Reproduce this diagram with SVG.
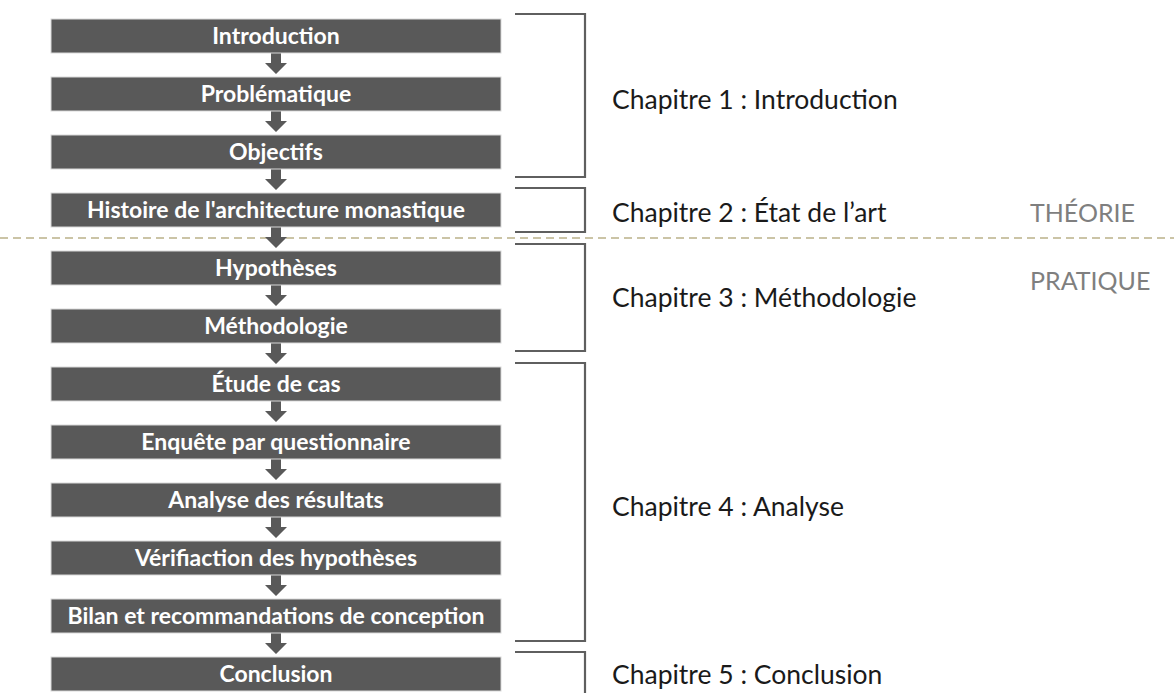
<svg xmlns="http://www.w3.org/2000/svg" width="1174" height="693" viewBox="0 0 1174 693">
<style>
.box{fill:#595959;stroke:#d9d9d9;stroke-width:1}
.lbl{font-family:Lato,"Liberation Sans",sans-serif;font-weight:bold;font-size:23px;fill:#ffffff;text-anchor:middle}
.arr{fill:#595959}
.brk{fill:none;stroke:#5f5f5f;stroke-width:2.2}
.ch{font-family:Lato,"Liberation Sans",sans-serif;font-size:26.5px;fill:#1a1a1a}
.sec{font-family:Lato,"Liberation Sans",sans-serif;font-size:25px;fill:#7f7f7f}
.dash{stroke:#cbc4a6;stroke-width:2;stroke-dasharray:8 5;fill:none}
</style>
<rect width="1174" height="693" fill="#ffffff"/>
<line class="dash" x1="0" y1="238" x2="1174" y2="238"/>
<g id="connectors">
<polygon class="arr" points="271,52 281,52 281,63 287,63 276,74 265,63 271,63"/>
<polygon class="arr" points="271,110 281,110 281,121 287,121 276,132 265,121 271,121"/>
<polygon class="arr" points="271,168 281,168 281,179 287,179 276,190 265,179 271,179"/>
<polygon class="arr" points="271,226 281,226 281,237 287,237 276,248 265,237 271,237"/>
<polygon class="arr" points="271,284 281,284 281,295 287,295 276,306 265,295 271,295"/>
<polygon class="arr" points="271,342 281,342 281,353 287,353 276,364 265,353 271,353"/>
<polygon class="arr" points="271,400 281,400 281,411 287,411 276,422 265,411 271,411"/>
<polygon class="arr" points="271,458 281,458 281,469 287,469 276,480 265,469 271,469"/>
<polygon class="arr" points="271,516 281,516 281,527 287,527 276,538 265,527 271,527"/>
<polygon class="arr" points="271,574 281,574 281,585 287,585 276,596 265,585 271,585"/>
<polygon class="arr" points="271,632 281,632 281,643 287,643 276,654 265,643 271,643"/>
</g>
<g id="n1"><rect class="box" x="51" y="19" width="450" height="34"/><text class="lbl" x="276" y="44">Introduction</text></g>
<g id="n2"><rect class="box" x="51" y="77" width="450" height="34"/><text class="lbl" x="276" y="102">Problématique</text></g>
<g id="n3"><rect class="box" x="51" y="135" width="450" height="34"/><text class="lbl" x="276" y="160">Objectifs</text></g>
<g id="n4"><rect class="box" x="51" y="193" width="450" height="34"/><text class="lbl" x="276" y="218">Histoire de l'architecture monastique</text></g>
<g id="n5"><rect class="box" x="51" y="251" width="450" height="34"/><text class="lbl" x="276" y="276">Hypothèses</text></g>
<g id="n6"><rect class="box" x="51" y="309" width="450" height="34"/><text class="lbl" x="276" y="334">Méthodologie</text></g>
<g id="n7"><rect class="box" x="51" y="367" width="450" height="34"/><text class="lbl" x="276" y="392">Étude de cas</text></g>
<g id="n8"><rect class="box" x="51" y="425" width="450" height="34"/><text class="lbl" x="276" y="450">Enquête par questionnaire</text></g>
<g id="n9"><rect class="box" x="51" y="483" width="450" height="34"/><text class="lbl" x="276" y="508">Analyse des résultats</text></g>
<g id="n10"><rect class="box" x="51" y="541" width="450" height="34"/><text class="lbl" x="276" y="566">Vérifiaction des hypothèses</text></g>
<g id="n11"><rect class="box" x="51" y="599" width="450" height="34"/><text class="lbl" x="276" y="624">Bilan et recommandations de conception</text></g>
<g id="n12"><rect class="box" x="51" y="657" width="450" height="34"/><text class="lbl" x="276" y="682">Conclusion</text></g>
<g id="brackets">
<path class="brk" d="M515,14 H585 V177 H515"/>
<path class="brk" d="M515,188 H585 V232 H515"/>
<path class="brk" d="M515,244 H585 V351 H515"/>
<path class="brk" d="M515,363 H585 V641 H515"/>
<path class="brk" d="M515,652 H585 V694"/>
</g>
<g id="chapters">
<text class="ch" x="612" y="109">Chapitre 1 : Introduction</text>
<text class="ch" x="612" y="222">Chapitre 2 : État de l’art</text>
<text class="ch" x="612" y="307">Chapitre 3 : Méthodologie</text>
<text class="ch" x="612" y="516">Chapitre 4 : Analyse</text>
<text class="ch" x="612" y="684">Chapitre 5 : Conclusion</text>
</g>
<g id="sections">
<text class="sec" x="1030" y="222">THÉORIE</text>
<text class="sec" x="1030" y="290">PRATIQUE</text>
</g>
</svg>
